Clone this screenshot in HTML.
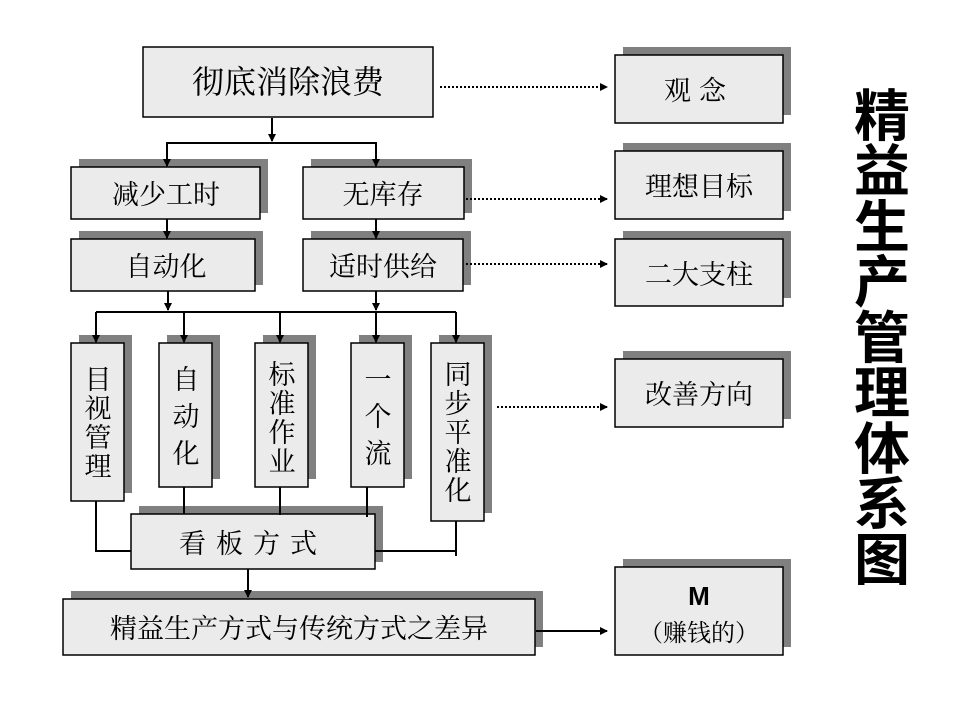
<!DOCTYPE html>
<html><head><meta charset="utf-8"><style>
html,body{margin:0;padding:0;background:#fff;}
svg{display:block;}
.s{font-family:"Noto Serif CJK SC","Noto Serif CJK JP","Liberation Serif",serif;fill:#000;}
</style></head><body>
<svg width="960" height="720" viewBox="0 0 960 720" xmlns="http://www.w3.org/2000/svg">
<defs>
<marker id="a" markerWidth="8" markerHeight="8" refX="7" refY="4" orient="auto" markerUnits="userSpaceOnUse"><path d="M0,0 L8,4 L0,8 z" fill="#000"/></marker>
</defs>
<g fill="#808080">
<rect x="79" y="159" width="189" height="54"/>
<rect x="311" y="159" width="161" height="54"/>
<rect x="79" y="231" width="184" height="54"/>
<rect x="311" y="231" width="160" height="54"/>
<rect x="79" y="335" width="53" height="158"/>
<rect x="167" y="335" width="53" height="144"/>
<rect x="263" y="335" width="53" height="144"/>
<rect x="359" y="335" width="53" height="144"/>
<rect x="439" y="335" width="53" height="178"/>
<rect x="139" y="506" width="244" height="56"/>
<rect x="71" y="591" width="472" height="56"/>
<rect x="623" y="47" width="168" height="68"/>
<rect x="623" y="143" width="168" height="68"/>
<rect x="623" y="231" width="168" height="67"/>
<rect x="623" y="351" width="168" height="68"/>
<rect x="623" y="559" width="168" height="88"/>
</g>
<g fill="#ebebeb" stroke="#000" stroke-width="1.5">
<rect x="143" y="47" width="290" height="70"/>
<rect x="71" y="167" width="189" height="52"/>
<rect x="303" y="167" width="161" height="52"/>
<rect x="71" y="239" width="184" height="52"/>
<rect x="303" y="239" width="160" height="52"/>
<rect x="71" y="343" width="53" height="158"/>
<rect x="159" y="343" width="53" height="144"/>
<rect x="255" y="343" width="53" height="144"/>
<rect x="351" y="343" width="53" height="144"/>
<rect x="431" y="343" width="53" height="178"/>
<rect x="131" y="514" width="244" height="55"/>
<rect x="63" y="599" width="472" height="56"/>
<rect x="615" y="55" width="168" height="68"/>
<rect x="615" y="151" width="168" height="68"/>
<rect x="615" y="239" width="168" height="67"/>
<rect x="615" y="359" width="168" height="68"/>
<rect x="615" y="567" width="168" height="88"/>
</g>
<g stroke="#000" stroke-width="2" fill="none">
<line x1="272" y1="118" x2="272" y2="141" marker-end="url(#a)"/>
<polyline points="167,166 167,143 376,143 376,166"/>
<line x1="167" y1="150" x2="167" y2="166" marker-end="url(#a)"/>
<line x1="376" y1="150" x2="376" y2="166" marker-end="url(#a)"/>
<line x1="167" y1="219" x2="167" y2="238" marker-end="url(#a)"/>
<line x1="376" y1="219" x2="376" y2="238" marker-end="url(#a)"/>
<line x1="168" y1="291" x2="168" y2="310" marker-end="url(#a)"/>
<line x1="376" y1="291" x2="376" y2="310" marker-end="url(#a)"/>
<line x1="96" y1="312" x2="456" y2="312"/>
<line x1="96" y1="312" x2="96" y2="342" marker-end="url(#a)"/>
<line x1="184" y1="312" x2="184" y2="342" marker-end="url(#a)"/>
<line x1="280" y1="312" x2="280" y2="342" marker-end="url(#a)"/>
<line x1="376" y1="312" x2="376" y2="342" marker-end="url(#a)"/>
<line x1="456" y1="312" x2="456" y2="342" marker-end="url(#a)"/>
<polyline points="96,501 96,551 131,551"/>
<line x1="184" y1="487" x2="184" y2="514"/>
<line x1="280" y1="487" x2="280" y2="515"/>
<line x1="367" y1="487" x2="367" y2="517"/>
<polyline points="375,551 456,551"/>
<line x1="456" y1="521" x2="456" y2="556"/>
<line x1="248" y1="569" x2="248" y2="597" marker-end="url(#a)"/>
<line x1="536" y1="631" x2="607" y2="631" marker-end="url(#a)"/>
</g>
<g stroke="#000" stroke-width="2" fill="none" stroke-dasharray="2,2">
<line x1="440" y1="87" x2="607" y2="87" marker-end="url(#a)"/>
<line x1="466" y1="199" x2="607" y2="199" marker-end="url(#a)"/>
<line x1="466" y1="264" x2="607" y2="264" marker-end="url(#a)"/>
<line x1="497" y1="407" x2="607" y2="407" marker-end="url(#a)"/>
</g>
<g class="s" text-anchor="middle">
<text x="288" y="93" font-size="32">彻底消除浪费</text>
<text x="166" y="204" font-size="27">减少工时</text>
<text x="383" y="204" font-size="27">无库存</text>
<text x="166" y="276" font-size="27">自动化</text>
<text x="383" y="276" font-size="27">适时供给</text>
<text x="253" y="553" font-size="27" letter-spacing="10">看板方式</text>
<text x="299" y="638" font-size="27">精益生产方式与传统方式之差异</text>
<text x="699" y="100" font-size="27" letter-spacing="8">观念</text>
<text x="699" y="196" font-size="27">理想目标</text>
<text x="699" y="284" font-size="27">二大支柱</text>
<text x="699" y="404" font-size="27">改善方向</text>
<text x="699" y="605" font-size="26" font-weight="bold" font-family="Liberation Sans,sans-serif">M</text>
<text x="699" y="641" font-size="24">（赚钱的）</text>
</g>
<g class="s" text-anchor="middle" font-size="27">
<text x="98" y="389">目</text><text x="98" y="418">视</text><text x="98" y="447">管</text><text x="98" y="476">理</text>
<text x="186" y="389">自</text><text x="186" y="426">动</text><text x="186" y="463">化</text>
<text x="282" y="384">标</text><text x="282" y="413">准</text><text x="282" y="442">作</text><text x="282" y="471">业</text>
<text x="378" y="389">一</text><text x="378" y="426">个</text><text x="378" y="463">流</text>
<text x="458" y="384">同</text><text x="458" y="413">步</text><text x="458" y="442">平</text><text x="458" y="471">准</text><text x="458" y="500">化</text>
</g>
<g font-family="'Noto Sans CJK SC',sans-serif" font-weight="600" font-size="56" text-anchor="middle" fill="#000">
<text x="882" y="136">精</text><text x="882" y="191">益</text><text x="882" y="247">生</text><text x="882" y="302">产</text><text x="882" y="358">管</text><text x="882" y="413">理</text><text x="882" y="469">体</text><text x="882" y="524">系</text><text x="882" y="580">图</text>
</g>
</svg>
</body></html>
